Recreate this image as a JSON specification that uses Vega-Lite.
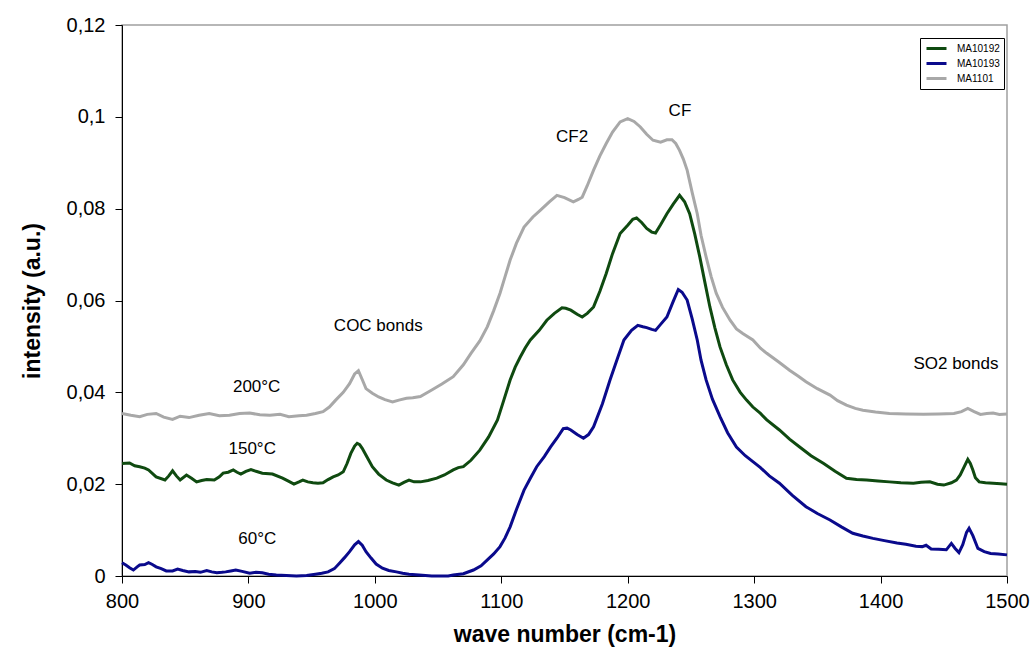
{
"$schema":"https://vega.github.io/schema/vega-lite/v6.json",
"width":885,"height":551,
"autosize":{"type":"none"},
"padding":{"left":122,"top":25,"right":24,"bottom":80},
"background":"white",
"config":{"view":{"stroke":"#a0a0a0","strokeWidth":1.5},"font":"Liberation Sans"},
"encoding":{
 "x":{"field":"x","type":"quantitative","scale":{"domain":[800,1500],"nice":false,"zero":false},
  "axis":{"values":[800,900,1000,1100,1200,1300,1400,1500],"format":"d","grid":false,"tickSize":7,"domainColor":"#000","tickColor":"#000","labelColor":"#000","labelFontSize":20,"labelPadding":8,"title":"wave number (cm-1)","titleFontSize":23,"titleFontWeight":"bold","titleColor":"#000","titlePadding":12,"labelFlush":false}},
 "y":{"field":"y","type":"quantitative","scale":{"domain":[0,0.12],"nice":false,"zero":false},
  "axis":{"values":[0,0.02,0.04,0.06,0.08,0.1,0.12],"labelExpr":"replace(format(datum.value,'.2~f'),'.',',')","grid":false,"tickSize":7,"domainColor":"#000","tickColor":"#000","labelColor":"#000","labelFontSize":20,"labelPadding":10,"title":"intensity (a.u.)","titleFontSize":23,"titleFontWeight":"bold","titleColor":"#000","titlePadding":22,"labelFlush":false}}
},
"layer":[
{"data":{"values":[
{"x":800,"y":0.0354},{"x":807,"y":0.035},{"x":814,"y":0.0347},{"x":820,"y":0.0352},{"x":827,"y":0.0354},{"x":833,"y":0.0346},{"x":840,"y":0.0341},{"x":846,"y":0.0348},{"x":853,"y":0.0345},{"x":861,"y":0.035},{"x":869,"y":0.0354},{"x":877,"y":0.0349},{"x":885,"y":0.035},{"x":893,"y":0.0354},{"x":901,"y":0.0355},{"x":909,"y":0.0351},{"x":917,"y":0.035},{"x":925,"y":0.0352},{"x":932,"y":0.0347},{"x":940,"y":0.0349},{"x":946,"y":0.035},{"x":953,"y":0.0354},{"x":959,"y":0.0358},{"x":964,"y":0.0368},{"x":969,"y":0.0383},{"x":975,"y":0.04},{"x":980,"y":0.0419},{"x":984,"y":0.044},{"x":987,"y":0.0447},{"x":990,"y":0.0428},{"x":993,"y":0.0408},{"x":998,"y":0.0398},{"x":1003,"y":0.039},{"x":1008,"y":0.0384},{"x":1014,"y":0.0379},{"x":1019,"y":0.0383},{"x":1025,"y":0.0387},{"x":1030,"y":0.0388},{"x":1036,"y":0.0391},{"x":1045,"y":0.0405},{"x":1053,"y":0.0418},{"x":1062,"y":0.0434},{"x":1070,"y":0.046},{"x":1076,"y":0.0485},{"x":1083,"y":0.0512},{"x":1089,"y":0.0543},{"x":1094,"y":0.0578},{"x":1099,"y":0.0616},{"x":1103,"y":0.0652},{"x":1107,"y":0.0688},{"x":1112,"y":0.0725},{"x":1118,"y":0.076},{"x":1125,"y":0.0782},{"x":1131,"y":0.0797},{"x":1138,"y":0.0815},{"x":1144,"y":0.0829},{"x":1150,"y":0.0824},{"x":1157,"y":0.0815},{"x":1161,"y":0.082},{"x":1164,"y":0.0825},{"x":1168,"y":0.085},{"x":1173,"y":0.0884},{"x":1178,"y":0.0915},{"x":1183,"y":0.0942},{"x":1188,"y":0.0967},{"x":1194,"y":0.0989},{"x":1200,"y":0.0996},{"x":1205,"y":0.099},{"x":1210,"y":0.0978},{"x":1215,"y":0.0962},{"x":1220,"y":0.0949},{"x":1226,"y":0.0945},{"x":1231,"y":0.095},{"x":1235,"y":0.095},{"x":1238,"y":0.0942},{"x":1241,"y":0.0927},{"x":1244,"y":0.0908},{"x":1247,"y":0.0884},{"x":1251,"y":0.0835},{"x":1255,"y":0.0789},{"x":1258,"y":0.0742},{"x":1262,"y":0.0695},{"x":1266,"y":0.0652},{"x":1270,"y":0.0616},{"x":1275,"y":0.0585},{"x":1281,"y":0.0557},{"x":1286,"y":0.0538},{"x":1291,"y":0.0528},{"x":1299,"y":0.0514},{"x":1305,"y":0.0496},{"x":1310,"y":0.0485},{"x":1320,"y":0.0465},{"x":1328,"y":0.0448},{"x":1335,"y":0.0435},{"x":1341,"y":0.0423},{"x":1350,"y":0.0408},{"x":1360,"y":0.0394},{"x":1366,"y":0.0382},{"x":1373,"y":0.0372},{"x":1380,"y":0.0365},{"x":1386,"y":0.0361},{"x":1396,"y":0.0357},{"x":1407,"y":0.0354},{"x":1420,"y":0.0353},{"x":1434,"y":0.0352},{"x":1446,"y":0.0353},{"x":1458,"y":0.0354},{"x":1464,"y":0.0358},{"x":1469,"y":0.0365},{"x":1474,"y":0.0358},{"x":1479,"y":0.0352},{"x":1484,"y":0.0354},{"x":1489,"y":0.0355},{"x":1494,"y":0.0352},{"x":1500,"y":0.0353}
]},
"mark":{"type":"line","strokeWidth":3},
"encoding":{"color":{"datum":"MA1101","type":"nominal","scale":{"domain":["MA10192","MA10193","MA1101"],"range":["#0f4a10","#0a0a8c","#a8a8a8"]},
  "legend":{"title":null,"orient":"none","legendX":798,"legendY":13,"fillColor":"white","strokeColor":"#000","padding":4,"labelFontSize":10,"labelColor":"#000","symbolType":"M-2,0H2","symbolStrokeWidth":3,"symbolSize":100,"symbolOffset":6,"rowPadding":2,"labelOffset":14}}}},
{"data":{"values":[
{"x":800,"y":0.0245},{"x":806,"y":0.0246},{"x":810,"y":0.024},{"x":814,"y":0.0238},{"x":818,"y":0.0235},{"x":821,"y":0.0231},{"x":827,"y":0.0216},{"x":834,"y":0.0209},{"x":837,"y":0.0218},{"x":840,"y":0.0229},{"x":843,"y":0.0218},{"x":846,"y":0.0209},{"x":851,"y":0.022},{"x":855,"y":0.0213},{"x":859,"y":0.0205},{"x":863,"y":0.0208},{"x":867,"y":0.021},{"x":873,"y":0.0209},{"x":877,"y":0.0216},{"x":880,"y":0.0224},{"x":884,"y":0.0226},{"x":888,"y":0.0231},{"x":891,"y":0.0226},{"x":894,"y":0.0222},{"x":898,"y":0.0228},{"x":902,"y":0.0232},{"x":906,"y":0.0228},{"x":911,"y":0.0224},{"x":919,"y":0.0222},{"x":927,"y":0.0213},{"x":932,"y":0.0206},{"x":936,"y":0.02},{"x":940,"y":0.0205},{"x":943,"y":0.0209},{"x":947,"y":0.0205},{"x":951,"y":0.0203},{"x":955,"y":0.0202},{"x":959,"y":0.0203},{"x":963,"y":0.021},{"x":967,"y":0.0216},{"x":971,"y":0.022},{"x":975,"y":0.0227},{"x":978,"y":0.0245},{"x":981,"y":0.0267},{"x":984,"y":0.0283},{"x":986,"y":0.0289},{"x":988,"y":0.0286},{"x":990,"y":0.0278},{"x":994,"y":0.0258},{"x":998,"y":0.0238},{"x":1003,"y":0.0222},{"x":1009,"y":0.0209},{"x":1014,"y":0.0203},{"x":1019,"y":0.0198},{"x":1023,"y":0.0204},{"x":1027,"y":0.0209},{"x":1031,"y":0.0205},{"x":1036,"y":0.0205},{"x":1042,"y":0.0208},{"x":1049,"y":0.0213},{"x":1055,"y":0.022},{"x":1062,"y":0.0231},{"x":1066,"y":0.0236},{"x":1070,"y":0.0238},{"x":1076,"y":0.0252},{"x":1083,"y":0.0274},{"x":1090,"y":0.0303},{"x":1097,"y":0.034},{"x":1102,"y":0.0383},{"x":1107,"y":0.0427},{"x":1111,"y":0.0455},{"x":1115,"y":0.0477},{"x":1119,"y":0.0497},{"x":1123,"y":0.0514},{"x":1130,"y":0.0535},{"x":1136,"y":0.0557},{"x":1142,"y":0.0572},{"x":1148,"y":0.0584},{"x":1151,"y":0.0583},{"x":1155,"y":0.0579},{"x":1160,"y":0.057},{"x":1164,"y":0.0564},{"x":1168,"y":0.0572},{"x":1173,"y":0.0586},{"x":1178,"y":0.062},{"x":1183,"y":0.0659},{"x":1188,"y":0.0702},{"x":1194,"y":0.0746},{"x":1200,"y":0.0764},{"x":1204,"y":0.0777},{"x":1207,"y":0.078},{"x":1211,"y":0.077},{"x":1215,"y":0.0757},{"x":1219,"y":0.0749},{"x":1222,"y":0.0747},{"x":1226,"y":0.0765},{"x":1231,"y":0.0789},{"x":1236,"y":0.081},{"x":1241,"y":0.0829},{"x":1245,"y":0.0815},{"x":1249,"y":0.0789},{"x":1253,"y":0.0745},{"x":1257,"y":0.0695},{"x":1261,"y":0.064},{"x":1265,"y":0.0586},{"x":1269,"y":0.054},{"x":1273,"y":0.0499},{"x":1278,"y":0.046},{"x":1283,"y":0.0427},{"x":1289,"y":0.04},{"x":1294,"y":0.0383},{"x":1299,"y":0.0368},{"x":1305,"y":0.0354},{"x":1310,"y":0.034},{"x":1320,"y":0.0318},{"x":1328,"y":0.0298},{"x":1336,"y":0.0281},{"x":1345,"y":0.0262},{"x":1355,"y":0.0245},{"x":1364,"y":0.0228},{"x":1373,"y":0.0213},{"x":1381,"y":0.021},{"x":1389,"y":0.0209},{"x":1398,"y":0.0207},{"x":1407,"y":0.0205},{"x":1416,"y":0.0203},{"x":1426,"y":0.0202},{"x":1432,"y":0.0204},{"x":1439,"y":0.0205},{"x":1445,"y":0.02},{"x":1450,"y":0.0198},{"x":1456,"y":0.0203},{"x":1460,"y":0.0209},{"x":1463,"y":0.022},{"x":1466,"y":0.0237},{"x":1469,"y":0.0254},{"x":1471,"y":0.0245},{"x":1473,"y":0.0231},{"x":1475,"y":0.0214},{"x":1478,"y":0.0205},{"x":1483,"y":0.0203},{"x":1489,"y":0.0202},{"x":1495,"y":0.0201},{"x":1500,"y":0.02}
]},
"mark":{"type":"line","strokeWidth":3},
"encoding":{"color":{"datum":"MA10192","type":"nominal"}}},
{"data":{"values":[
{"x":800,"y":0.0029},{"x":803,"y":0.0024},{"x":806,"y":0.0018},{"x":809,"y":0.0013},{"x":812,"y":0.002},{"x":814,"y":0.0024},{"x":818,"y":0.0025},{"x":821,"y":0.0029},{"x":824,"y":0.0025},{"x":827,"y":0.002},{"x":831,"y":0.0016},{"x":835,"y":0.0011},{"x":840,"y":0.0011},{"x":844,"y":0.0015},{"x":848,"y":0.0012},{"x":853,"y":0.0009},{"x":858,"y":0.001},{"x":862,"y":0.0008},{"x":867,"y":0.0012},{"x":871,"y":0.0009},{"x":875,"y":0.0007},{"x":879,"y":0.0008},{"x":882,"y":0.0009},{"x":886,"y":0.0011},{"x":890,"y":0.0013},{"x":895,"y":0.001},{"x":901,"y":0.0006},{"x":906,"y":0.0008},{"x":911,"y":0.0007},{"x":916,"y":0.0004},{"x":922,"y":0.0002},{"x":930,"y":0.0001},{"x":938,"y":0},{"x":946,"y":0.0001},{"x":953,"y":0.0004},{"x":958,"y":0.0006},{"x":963,"y":0.0009},{"x":968,"y":0.0016},{"x":972,"y":0.0028},{"x":976,"y":0.004},{"x":980,"y":0.0053},{"x":984,"y":0.0068},{"x":987,"y":0.0075},{"x":990,"y":0.0067},{"x":993,"y":0.0053},{"x":997,"y":0.0039},{"x":1001,"y":0.0026},{"x":1006,"y":0.0017},{"x":1011,"y":0.0012},{"x":1017,"y":0.0009},{"x":1022,"y":0.0006},{"x":1027,"y":0.0004},{"x":1035,"y":0.0002},{"x":1045,"y":0},{"x":1052,"y":0},{"x":1058,"y":0},{"x":1062,"y":0.0002},{"x":1070,"y":0.0005},{"x":1078,"y":0.0013},{"x":1084,"y":0.0022},{"x":1089,"y":0.0035},{"x":1094,"y":0.0048},{"x":1099,"y":0.0064},{"x":1103,"y":0.0083},{"x":1107,"y":0.0107},{"x":1112,"y":0.0145},{"x":1118,"y":0.0187},{"x":1123,"y":0.0213},{"x":1128,"y":0.0238},{"x":1134,"y":0.026},{"x":1139,"y":0.0281},{"x":1144,"y":0.03},{"x":1149,"y":0.0321},{"x":1152,"y":0.0322},{"x":1155,"y":0.0318},{"x":1160,"y":0.0308},{"x":1165,"y":0.03},{"x":1169,"y":0.0308},{"x":1173,"y":0.0325},{"x":1180,"y":0.0375},{"x":1186,"y":0.0427},{"x":1192,"y":0.0475},{"x":1197,"y":0.0514},{"x":1203,"y":0.0535},{"x":1208,"y":0.0546},{"x":1212,"y":0.0543},{"x":1215,"y":0.0541},{"x":1219,"y":0.0537},{"x":1222,"y":0.0535},{"x":1226,"y":0.0548},{"x":1231,"y":0.0564},{"x":1236,"y":0.0598},{"x":1240,"y":0.0624},{"x":1243,"y":0.0618},{"x":1247,"y":0.0601},{"x":1251,"y":0.056},{"x":1255,"y":0.0514},{"x":1258,"y":0.047},{"x":1262,"y":0.0427},{"x":1267,"y":0.0385},{"x":1273,"y":0.0347},{"x":1279,"y":0.0312},{"x":1286,"y":0.0281},{"x":1293,"y":0.0262},{"x":1299,"y":0.0249},{"x":1305,"y":0.0236},{"x":1312,"y":0.0218},{"x":1320,"y":0.0202},{"x":1330,"y":0.0176},{"x":1341,"y":0.0151},{"x":1350,"y":0.0136},{"x":1360,"y":0.0122},{"x":1369,"y":0.0107},{"x":1378,"y":0.0093},{"x":1386,"y":0.0087},{"x":1394,"y":0.0082},{"x":1403,"y":0.0077},{"x":1413,"y":0.0072},{"x":1420,"y":0.0069},{"x":1428,"y":0.0065},{"x":1433,"y":0.0064},{"x":1436,"y":0.0067},{"x":1440,"y":0.0059},{"x":1446,"y":0.0058},{"x":1452,"y":0.0057},{"x":1456,"y":0.0071},{"x":1459,"y":0.006},{"x":1462,"y":0.0051},{"x":1465,"y":0.0068},{"x":1468,"y":0.0095},{"x":1470,"y":0.0104},{"x":1473,"y":0.0088},{"x":1477,"y":0.006},{"x":1482,"y":0.0053},{"x":1487,"y":0.0049},{"x":1493,"y":0.0048},{"x":1500,"y":0.0046}
]},
"mark":{"type":"line","strokeWidth":3},
"encoding":{"color":{"datum":"MA10193","type":"nominal"}}},
{"data":{"values":[
{"x":906.5,"y":0.0412,"label":"200°C"},
{"x":903,"y":0.0276,"label":"150°C"},
{"x":907,"y":0.008,"label":"60°C"},
{"x":1002.7,"y":0.0544,"label":"COC bonds"},
{"x":1156,"y":0.0956,"label":"CF2"},
{"x":1241.3,"y":0.1012,"label":"CF"},
{"x":1459.6,"y":0.0461,"label":"SO2 bonds"}
]},
"mark":{"type":"text","fontSize":17,"color":"#000","align":"center","baseline":"middle"},
"encoding":{"text":{"field":"label","type":"nominal"}}}
]
}
